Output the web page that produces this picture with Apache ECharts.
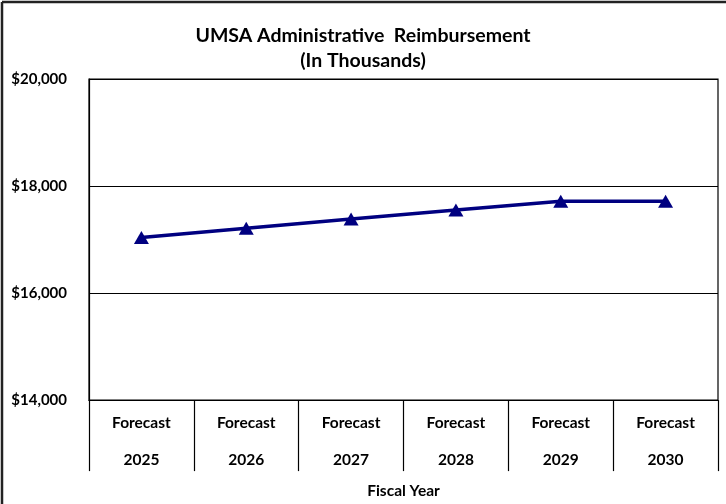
<!DOCTYPE html>
<html>
<head>
<meta charset="utf-8">
<script src="https://cdn.jsdelivr.net/npm/echarts@6/dist/echarts.min.js"></script>
<style>
	html,body{margin:0;padding:0;background:#fff;}
	#chart{width:726px;height:504px;}
</style>
</head>
<body>
<div id="chart"></div>
<script>
//--- DATA
var Years	= ["2025","2026","2027","2028","2029","2030"];
var Prefix	= "Forecast";
var Values	= [17040, 17210, 17385, 17550, 17715, 17715];
var YTicks	= [14000, 16000, 18000, 20000];

var labelFont = 'Lato';
var categories = [];
for(var i=0;i<Years.length;i++){
	categories.push(Prefix + "\n" + Years[i]);
}

var myChart = echarts.init(document.getElementById('chart'));

var option = {
	animation: false,
	backgroundColor: '#fff',
	title: {
		left: 'center',
		top: 18,
		text: 'UMSA Administrative  Reimbursement\n(In Thousands)',
		textStyle: {
			fontFamily: labelFont,
			fontSize: 19.5,
			fontWeight: 'bold',
			color: '#000',
			lineHeight: 25
		}
	},
	grid: {
		left: 89,
		right: 8,
		top: 79,
		bottom: 103,
		show: true,
		borderColor: '#000',
		borderWidth: 1.2,
		containLabel: false
	},
	xAxis: {
		type: 'category',
		data: categories,
		boundaryGap: true,
		name: 'Fiscal Year',
		nameLocation: 'middle',
		nameGap: 78,
		nameTextStyle: {fontFamily: labelFont, fontSize: 15.5, fontWeight: 'bold', color: '#000'},
		axisLine: {show: true, lineStyle: {color: '#000', width: 1.2}},
		axisTick: {show: true, interval: 0, length: 71, lineStyle: {color: '#000', width: 1.2}},
		axisLabel: {
			interval: 0,
			margin: 4,
			fontFamily: labelFont,
			fontSize: 15.5,
			fontWeight: 'bold',
			color: '#000',
			lineHeight: 37
		}
	},
	yAxis: {
		type: 'value',
		min: YTicks[0],
		max: YTicks[YTicks.length-1],
		interval: 2000,
		axisLine: {show: true, lineStyle: {color: '#000', width: 1.2}},
		axisTick: {show: false},
		splitLine: {show: true, lineStyle: {color: '#000', width: 1.2}},
		axisLabel: {
			margin: 22,
			fontFamily: labelFont,
			fontSize: 15,
			fontWeight: 'bold',
			color: '#000',
			formatter: function(v){ return '$' + v.toLocaleString('en-US'); }
		}
	},
	graphic: [
		{type: 'line', shape: {x1: 2, y1: 2, x2: 726, y2: 2}, style: {stroke: '#222', lineWidth: 2.5}},
		{type: 'line', shape: {x1: 2, y1: 2, x2: 2, y2: 504}, style: {stroke: '#222', lineWidth: 2.5}}
	],
	series: [{
		name: 'Reimbursement',
		type: 'line',
		data: Values,
		symbol: 'triangle',
		symbolSize: [15, 13],
		lineStyle: {color: '#000080', width: 3.5},
		itemStyle: {color: '#000080'}
	}]
};

myChart.setOption(option);
</script>
</body>
</html>
